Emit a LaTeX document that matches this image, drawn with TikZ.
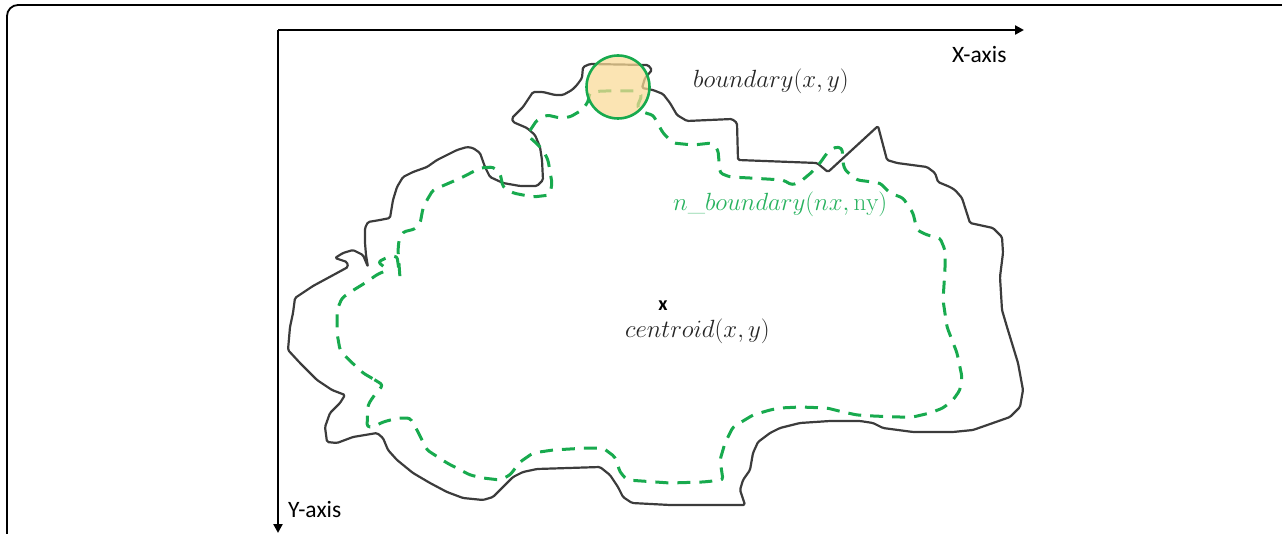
\documentclass[tikz,border=0pt]{standalone}
\usepackage{fontspec}
\newfontfamily\carlito{Carlito}
\usetikzlibrary{arrows.meta}
\definecolor{bgreen}{RGB}{24,170,78}
\definecolor{tgreen}{RGB}{40,178,95}
\definecolor{cfill}{RGB}{250,218,150}
\definecolor{outline}{RGB}{60,60,60}
\tikzset{
  frameline/.style={line width=1.8pt, black, rounded corners=11pt},
  axisline/.style={line width=2.8pt, black, -{Triangle[length=9pt,width=9pt]}},
  blob/.style={line width=2.2pt, outline, line join=round, rounded corners=1.5pt},
  nblob/.style={line width=3pt, bgreen, dash pattern=on 13pt off 9pt, line join=round, rounded corners=3pt},
  mathlabel/.style={inner sep=0pt, anchor=base west, font=\fontsize{25}{30}\selectfont},
  axislabel/.style={inner sep=0pt, anchor=base west, font=\carlito\fontsize{23.5}{28}\selectfont},
}
\begin{document}
\begin{tikzpicture}[x=1pt,y=-1pt]
\useasboundingbox (0,0) rectangle (1282,534);
% frame
\draw[frameline] (7,540) -- (7,5) -- (1290,5);
% axes
\coordinate (O) at (278,30);
\coordinate (xend) at (1024,30);
\coordinate (yend) at (278,533);
\draw[axisline] (O) -- (xend);
\draw[axisline] (O) -- (yend);
\node[axislabel] (xlab) at (952,63) {X-axis};
\node[axislabel] (ylab) at (288,517) {Y-axis};
% boundary
\draw[blob] (583,67) -- (590,64) -- (648,65) -- (652,70) -- (645,78) -- (642,88) -- (653,90) -- (663,94) -- (670,103) -- (677,115) -- (687,121) -- (732,119) -- (737,123) -- (738,160) -- (817,163) -- (828,172) -- (878,126) -- (887,160) -- (897,163) -- (927,167) -- (935,173) -- (938,182) -- (950,187) -- (955,190) -- (962,198) -- (970,223) -- (993,228) -- (1002,237) -- (1003,253) -- (1000,277) -- (1002,310) -- (1007,327) -- (1018,363) -- (1023,390) -- (1020,407) -- (1010,417) -- (993,423) -- (973,430) -- (953,432) -- (913,432) -- (883,428) -- (873,423) -- (860,421) -- (830,421) -- (800,423) -- (780,428) -- (770,433) -- (758,442) -- (753,453) -- (750,470) -- (743,480) -- (740,490) -- (745,505) -- (670,505) -- (632,503) -- (623,497) -- (618,487) -- (610,475) -- (600,467) -- (537,469) -- (523,472) -- (513,477) -- (500,490) -- (493,497) -- (483,500) -- (463,498) -- (447,492) -- (430,483) -- (413,473) -- (397,460) -- (388,450) -- (383,438) -- (377,433) -- (353,437) -- (337,443) -- (327,442) -- (325,427) -- (330,413) -- (340,403) -- (345,395) -- (332,390) -- (317,380) -- (300,363) -- (288,350) -- (290,327) -- (293,313) -- (295,298) -- (313,286) -- (337,273) -- (348,267) -- (347,262) -- (335,258) -- (343,253) -- (353,250) -- (363,255) -- (368,267) -- (366,255) -- (365,243) -- (365,228) -- (368,222) -- (380,220) -- (390,218) -- (393,200) -- (397,187) -- (403,177) -- (413,172) -- (427,167) -- (437,160) -- (457,150) -- (467,147) -- (473,148) -- (480,153) -- (485,167) -- (490,177) -- (503,183) -- (520,186) -- (537,186) -- (543,180) -- (542,160) -- (540,147) -- (535,135) -- (527,128) -- (513,122) -- (512,118) -- (523,107) -- (533,92) -- (543,92) -- (555,95) -- (563,95) -- (572,90) -- (577,85) -- (582,78) -- cycle;
% n_boundary
\draw[nblob] (375,380) -- (363,373) -- (347,358) -- (340,350) -- (337,333) -- (337,310) -- (342,298) -- (352,291) -- (365,283) -- (378,274) -- (388,270) -- (378,262) -- (388,257) -- (397,256) -- (400,278) -- (398,250) -- (399,240) -- (403,232) -- (415,229) -- (420,224) -- (423,208) -- (427,200) -- (433,190) -- (447,184) -- (463,177) -- (480,168) -- (493,167) -- (500,173) -- (503,187) -- (513,193) -- (533,197) -- (550,195) -- (552,183) -- (548,160) -- (543,150) -- (535,142) -- (527,135) -- (537,120) -- (547,115) -- (560,118) -- (570,117) -- (582,110) -- (588,102) -- (590,92) -- (603,91) -- (637,91) -- (642,95) -- (637,107) -- (645,113) -- (653,115) -- (663,133) -- (673,143) -- (693,145) -- (712,143) -- (718,150) -- (720,173) -- (730,177) -- (750,178) -- (783,180) -- (792,185) -- (800,182) -- (812,172) -- (820,163) -- (827,153) -- (835,147) -- (842,148) -- (843,163) -- (845,170) -- (857,180) -- (880,183) -- (890,193) -- (903,198) -- (913,213) -- (917,230) -- (927,235) -- (940,238) -- (945,250) -- (945,270) -- (943,300) -- (947,327) -- (957,353) -- (962,377) -- (960,390) -- (953,400) -- (943,408) -- (930,413) -- (913,417) -- (897,417) -- (873,416) -- (857,415) -- (843,412) -- (827,408) -- (800,407) -- (780,408) -- (770,410) -- (753,415) -- (733,427) -- (725,443) -- (720,460) -- (723,480) -- (703,482) -- (670,483) -- (627,480) -- (620,472) -- (615,457) -- (603,448) -- (587,448) -- (553,450) -- (533,453) -- (520,462) -- (510,475) -- (500,480) -- (483,478) -- (470,475) -- (447,463) -- (427,450) -- (417,430) -- (410,418) -- (398,418) -- (383,422) -- (373,427) -- (367,427) -- (368,405) -- (373,397) -- (383,385) -- cycle;
% circle (semi-transparent fill over the lines)
\node[circle, draw=bgreen, fill=cfill, fill opacity=0.72, line width=2.6pt, minimum size=63pt, inner sep=0pt] (win) at (618,87) {};
% labels
\node[mathlabel, text=black!85] (blab) at (693,88) {$boundary(x,y)$};
\node[mathlabel, text=tgreen] (nlab) at (673,211) {$n\_boundary(nx,\mathrm{ny})$};
\node[inner sep=0pt, font=\carlito\bfseries\fontsize{20}{24}\selectfont] (cmark) at (663,306) {x};
\node[mathlabel, text=black!85] (clab) at (625,338) {$centroid(x,y)$};
\end{tikzpicture}
\end{document}
